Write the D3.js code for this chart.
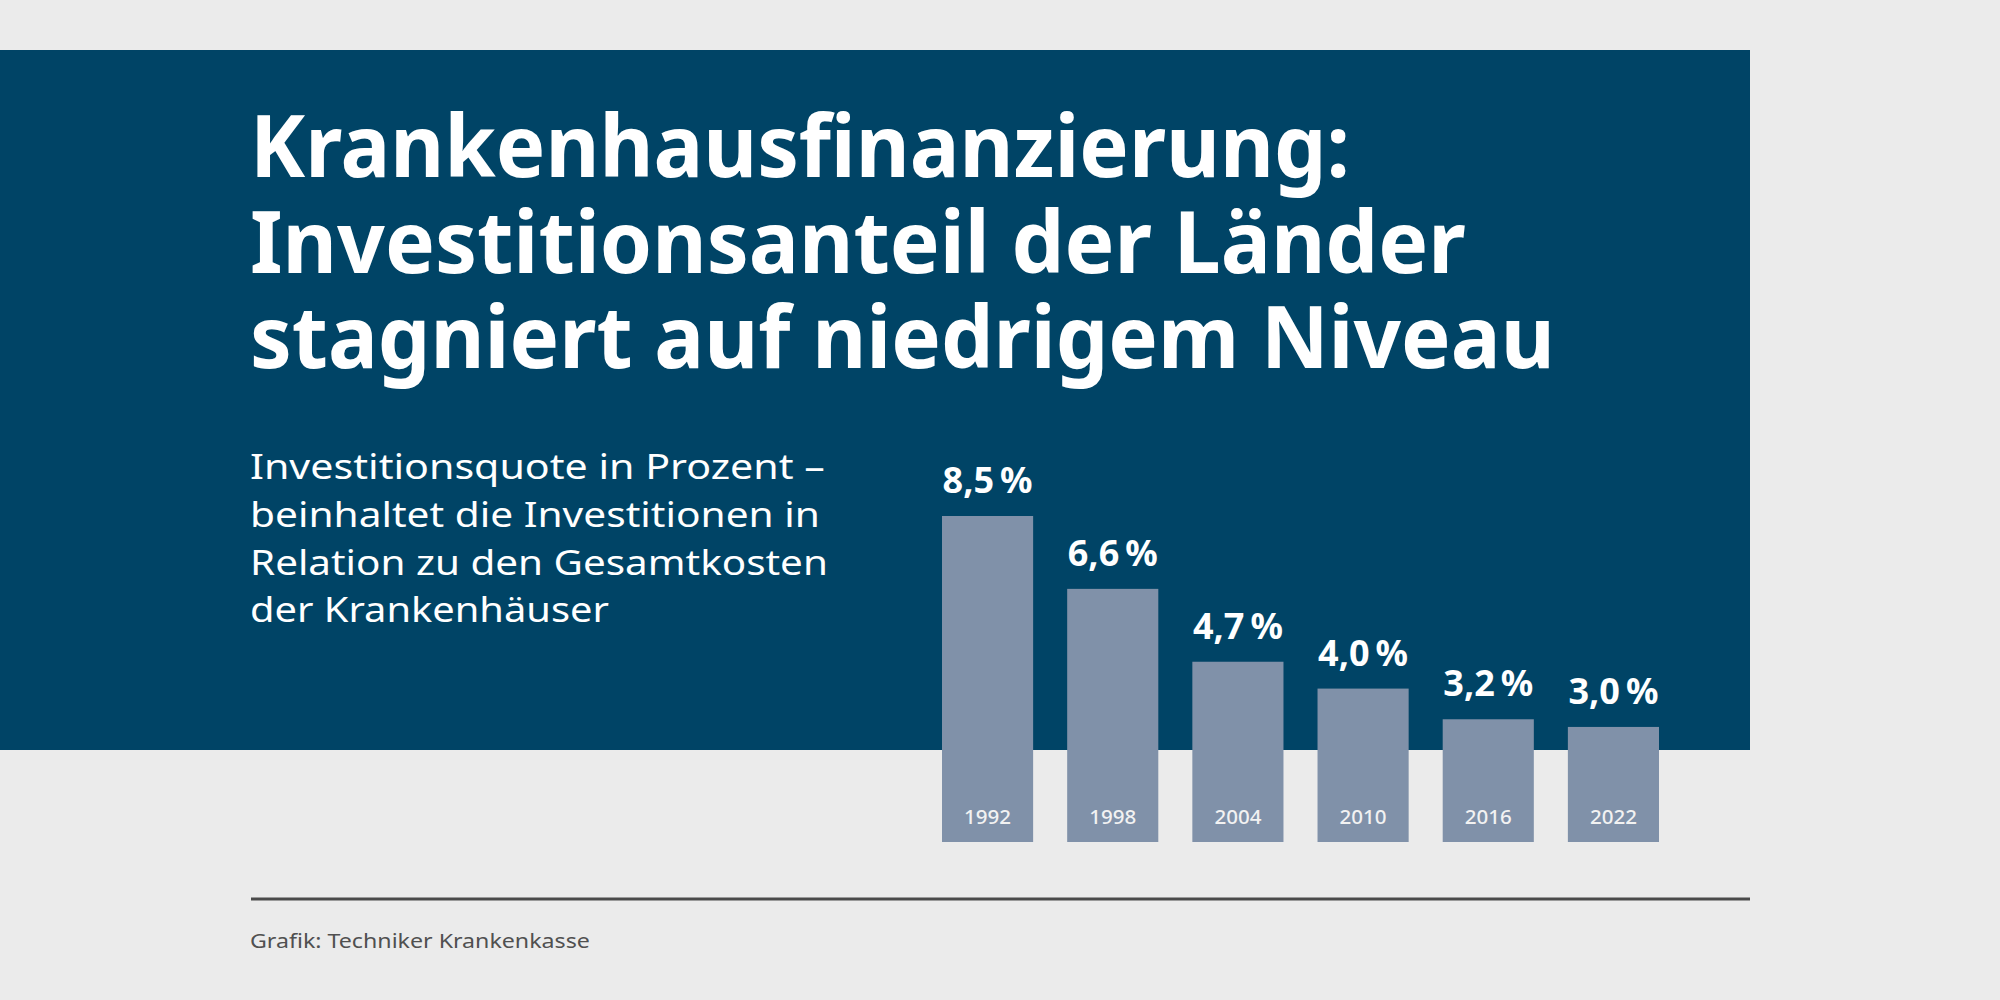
<!DOCTYPE html>
<html>
<head>
<meta charset="utf-8">
<script src="https://cdn.jsdelivr.net/npm/d3@7"></script>
<style>
  html, body { margin: 0; padding: 0; background: #ebebeb; }
  svg { display: block; }
</style>
</head>
<body>
<script>
// ---- data ----
const years = ["1992", "1998", "2004", "2010", "2016", "2022"];
const values = [8.5, 6.6, 4.7, 4.0, 3.2, 3.0];
const titleLines = [
  "Krankenhausfinanzierung:",
  "Investitionsanteil der Länder",
  "stagniert auf niedrigem Niveau"
];
const subtitleLines = [
  "Investitionsquote in Prozent –",
  "beinhaltet die Investitionen in",
  "Relation zu den Gesamtkosten",
  "der Krankenhäuser"
];
const sourceText = "Grafik: Techniker Krankenkasse";

// ---- layout ----
const W = 2000, H = 1000;
const colors = {
  bg: "#ebebeb", panel: "#004466", bar: "#8091a9",
  text: "#ffffff", year: "#f2f2f2", rule: "#4a4a4a", source: "#505050"
};
const fontFamily = "'Noto Sans', 'Open Sans', sans-serif";

const svg = d3.select("body").append("svg").attr("width", W).attr("height", H);
svg.append("rect").attr("width", W).attr("height", H).attr("fill", colors.bg);
svg.append("rect").attr("x", 0).attr("y", 50).attr("width", 1750).attr("height", 700).attr("fill", colors.panel);

// fit text horizontally to target width
function fit(sel, x, y, target) {
  const node = sel.node();
  const w = node.getComputedTextLength();
  const s = target / w;
  sel.attr("x", 0).attr("y", 0).attr("transform", `translate(${x},${y}) scale(${s},1)`);
}

// title
const titleBaselines = [177, 273, 368];
const titleWidths = [1100, 1216, 1305];
titleLines.forEach((t, i) => {
  const el = svg.append("text").text(t)
    .attr("font-family", fontFamily).attr("font-weight", 700)
    .attr("font-size", 87).attr("fill", colors.text);
  fit(el, 250, titleBaselines[i], titleWidths[i]);
});

// subtitle
const subBaselines = [479, 527, 575, 622];
const subWidths = [575, 570, 578, 359];
subtitleLines.forEach((t, i) => {
  const el = svg.append("text").text(t)
    .attr("font-family", fontFamily).attr("font-weight", 400)
    .attr("font-size", 35).attr("fill", colors.text);
  fit(el, 250, subBaselines[i], subWidths[i]);
});

// chart
const x = d3.scaleBand().domain(years).range([942, 1659]).paddingInner(0.272).paddingOuter(0);
const y = d3.scaleLinear().domain([0, 8.5]).range([842, 516]);

const g = svg.append("g");
g.selectAll("rect.bar").data(values).join("rect")
  .attr("class", "bar")
  .attr("x", (d, i) => x(years[i]))
  .attr("y", d => y(d))
  .attr("width", x.bandwidth())
  .attr("height", d => y(0) - y(d))
  .attr("fill", colors.bar);

const fmt = v => v.toFixed(1).replace(".", ",") + "\u2009%";
values.forEach((v, i) => {
  const el = g.append("text").text(fmt(v))
    .attr("font-family", fontFamily).attr("font-weight", 700)
    .attr("font-size", 36).attr("fill", colors.text)
    .attr("text-anchor", "middle");
  fit(el, x(years[i]) + x.bandwidth() / 2, y(v) - 23, 90);
});

years.forEach((yr, i) => {
  const el = g.append("text").text(yr)
    .attr("font-family", fontFamily).attr("font-weight", 500)
    .attr("font-size", 20).attr("fill", colors.year)
    .attr("text-anchor", "middle");
  fit(el, x(yr) + x.bandwidth() / 2, y(0) - 18, 47);
});

// footer
svg.append("line").attr("x1", 251).attr("x2", 1750).attr("y1", 899).attr("y2", 899)
  .attr("stroke", colors.rule).attr("stroke-width", 3);
const src = svg.append("text").text(sourceText)
  .attr("font-family", fontFamily).attr("font-size", 20).attr("fill", colors.source);
fit(src, 250, 948, 340);
</script>
</body>
</html>
